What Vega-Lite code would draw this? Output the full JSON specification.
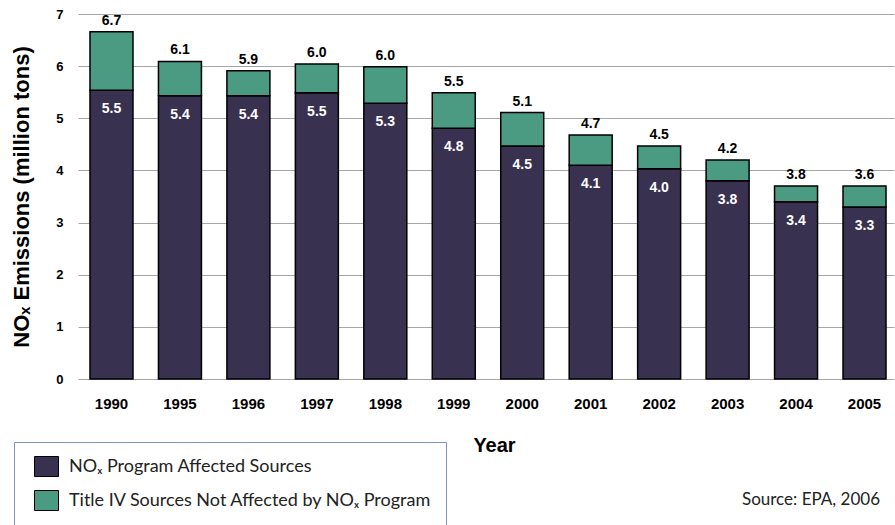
{
  "$schema": "https://vega.github.io/schema/vega-lite/v6.json",
  "width": 816,
  "height": 365,
  "autosize": {"type": "none"},
  "padding": {"left": 78, "top": 14, "right": 1, "bottom": 146},
  "background": "white",
  "config": {"view": {"stroke": null}, "font": "Liberation Sans"},
  "title": {"text": "Source: EPA, 2006", "orient": "bottom", "anchor": "end", "frame": "group", "font": "Lato", "fontSize": 17, "fontWeight": "normal", "color": "#222222", "dy": -40, "dx": -14},
  "datasets": {
    "bars": [
      {"year": "1990", "source": "NOₓ Program Affected Sources", "value": 5.54},
      {"year": "1990", "source": "Title IV Sources Not Affected by NOₓ Program", "value": 1.12},
      {"year": "1995", "source": "NOₓ Program Affected Sources", "value": 5.43},
      {"year": "1995", "source": "Title IV Sources Not Affected by NOₓ Program", "value": 0.66},
      {"year": "1996", "source": "NOₓ Program Affected Sources", "value": 5.43},
      {"year": "1996", "source": "Title IV Sources Not Affected by NOₓ Program", "value": 0.48},
      {"year": "1997", "source": "NOₓ Program Affected Sources", "value": 5.49},
      {"year": "1997", "source": "Title IV Sources Not Affected by NOₓ Program", "value": 0.55},
      {"year": "1998", "source": "NOₓ Program Affected Sources", "value": 5.29},
      {"year": "1998", "source": "Title IV Sources Not Affected by NOₓ Program", "value": 0.70},
      {"year": "1999", "source": "NOₓ Program Affected Sources", "value": 4.81},
      {"year": "1999", "source": "Title IV Sources Not Affected by NOₓ Program", "value": 0.68},
      {"year": "2000", "source": "NOₓ Program Affected Sources", "value": 4.47},
      {"year": "2000", "source": "Title IV Sources Not Affected by NOₓ Program", "value": 0.64},
      {"year": "2001", "source": "NOₓ Program Affected Sources", "value": 4.10},
      {"year": "2001", "source": "Title IV Sources Not Affected by NOₓ Program", "value": 0.58},
      {"year": "2002", "source": "NOₓ Program Affected Sources", "value": 4.03},
      {"year": "2002", "source": "Title IV Sources Not Affected by NOₓ Program", "value": 0.44},
      {"year": "2003", "source": "NOₓ Program Affected Sources", "value": 3.80},
      {"year": "2003", "source": "Title IV Sources Not Affected by NOₓ Program", "value": 0.40},
      {"year": "2004", "source": "NOₓ Program Affected Sources", "value": 3.40},
      {"year": "2004", "source": "Title IV Sources Not Affected by NOₓ Program", "value": 0.30},
      {"year": "2005", "source": "NOₓ Program Affected Sources", "value": 3.30},
      {"year": "2005", "source": "Title IV Sources Not Affected by NOₓ Program", "value": 0.40}
    ],
    "labels": [
      {"year": "1990", "top": 6.66, "total": "6.7", "affected": 5.54, "affectedLabel": "5.5"},
      {"year": "1995", "top": 6.09, "total": "6.1", "affected": 5.43, "affectedLabel": "5.4"},
      {"year": "1996", "top": 5.91, "total": "5.9", "affected": 5.43, "affectedLabel": "5.4"},
      {"year": "1997", "top": 6.04, "total": "6.0", "affected": 5.49, "affectedLabel": "5.5"},
      {"year": "1998", "top": 5.99, "total": "6.0", "affected": 5.29, "affectedLabel": "5.3"},
      {"year": "1999", "top": 5.49, "total": "5.5", "affected": 4.81, "affectedLabel": "4.8"},
      {"year": "2000", "top": 5.11, "total": "5.1", "affected": 4.47, "affectedLabel": "4.5"},
      {"year": "2001", "top": 4.68, "total": "4.7", "affected": 4.10, "affectedLabel": "4.1"},
      {"year": "2002", "top": 4.47, "total": "4.5", "affected": 4.03, "affectedLabel": "4.0"},
      {"year": "2003", "top": 4.20, "total": "4.2", "affected": 3.80, "affectedLabel": "3.8"},
      {"year": "2004", "top": 3.70, "total": "3.8", "affected": 3.40, "affectedLabel": "3.4"},
      {"year": "2005", "top": 3.70, "total": "3.6", "affected": 3.30, "affectedLabel": "3.3"}
    ]
  },
  "layer": [
    {
      "data": {"name": "bars"},
      "mark": {"type": "bar", "stroke": "black", "strokeWidth": 1.5},
      "encoding": {
        "x": {
          "field": "year", "type": "nominal",
          "scale": {"paddingInner": 0.372, "paddingOuter": 0.146, "align": 0.6},
          "axis": {
            "title": "Year", "titleFont": "Liberation Sans", "titleFontSize": 20, "titleFontWeight": "bold", "titleColor": "black", "titlePadding": 24,
            "titleX": 416, "titleAlign": "center",
            "labelFontSize": 15, "labelFontWeight": "bold", "labelColor": "black", "labelAngle": 0, "labelPadding": 17,
            "ticks": false, "domain": false, "grid": false
          }
        },
        "y": {
          "field": "value", "type": "quantitative", "stack": "zero",
          "scale": {"domain": [0, 7], "nice": false},
          "axis": {
            "title": "NOₓ Emissions (million tons)", "titleFontSize": 22, "titleFontWeight": "bold", "titleColor": "black", "titlePadding": 22,
            "labelFontSize": 13, "labelFontWeight": "bold", "labelColor": "black", "labelPadding": 15,
            "values": [0, 1, 2, 3, 4, 5, 6, 7], "format": "d",
            "ticks": false, "domain": false, "grid": true, "gridColor": "#a6a6a6", "gridWidth": 1
          }
        },
        "order": {"field": "source", "sort": "ascending"},
        "color": {
          "field": "source", "type": "nominal",
          "scale": {"domain": ["NOₓ Program Affected Sources", "Title IV Sources Not Affected by NOₓ Program"], "range": ["#393150", "#4b9a82"]},
          "legend": {
            "orient": "none", "legendX": -64, "legendY": 428, "title": null, "direction": "vertical",
            "strokeColor": "#8094c0", "padding": 14, "symbolOffset": 8, "labelOffset": 12, "rowPadding": 9,
            "symbolType": "M-1.2,-1L1.2,-1L1.2,1L-1.2,1Z", "symbolSize": 400, "symbolStrokeColor": "black", "symbolStrokeWidth": 1,
            "labelFont": "Lato", "labelFontSize": 18, "labelColor": "#222222", "labelLimit": 500
          }
        }
      }
    },
    {
      "data": {"name": "labels"},
      "mark": {"type": "text", "baseline": "bottom", "dy": -4, "fontWeight": "bold", "fontSize": 14, "color": "black"},
      "encoding": {
        "x": {"field": "year", "type": "nominal"},
        "y": {"field": "top", "type": "quantitative"},
        "text": {"field": "total"}
      }
    },
    {
      "data": {"name": "labels"},
      "mark": {"type": "text", "baseline": "middle", "dy": 19, "fontWeight": "bold", "fontSize": 14, "color": "white"},
      "encoding": {
        "x": {"field": "year", "type": "nominal"},
        "y": {"field": "affected", "type": "quantitative"},
        "text": {"field": "affectedLabel"}
      }
    }
  ]
}
